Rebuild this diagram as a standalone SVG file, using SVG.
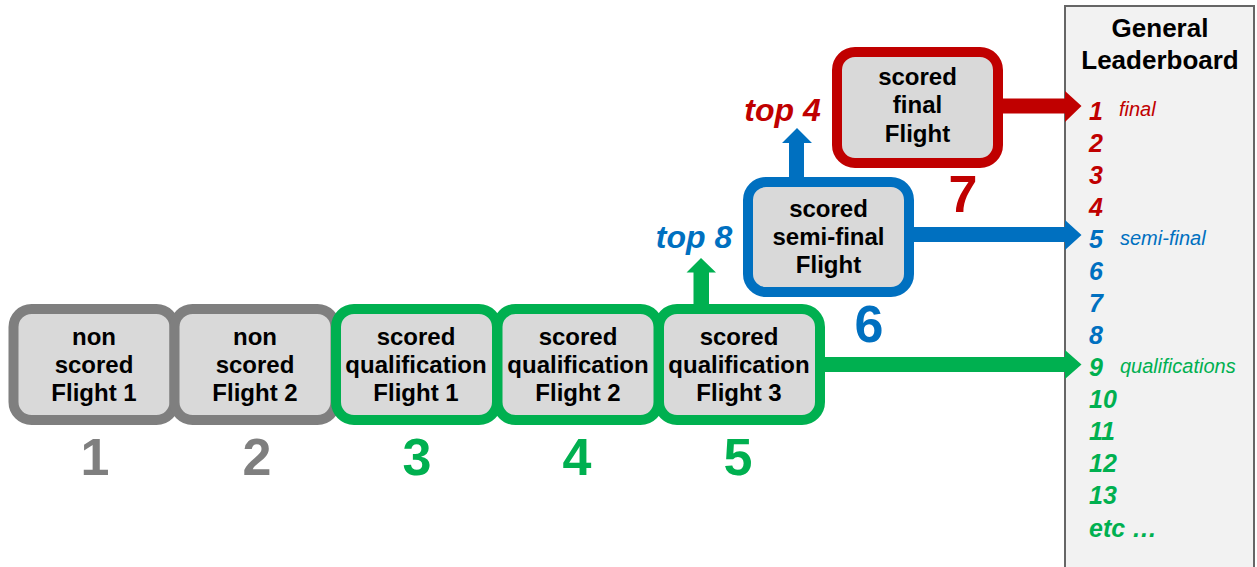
<svg xmlns="http://www.w3.org/2000/svg" width="1257" height="567" viewBox="0 0 1257 567">
<style>
.box{fill:#d9d9d9;stroke-width:10}
.g{stroke:#7f7f7f}.gr{stroke:#00b050}.bl{stroke:#0070c0}.rd{stroke:#c00000}
.bt{font-family:"Liberation Sans",Arial,sans-serif;font-weight:bold;font-size:24px;fill:#000;text-anchor:middle}
.num{font-family:"Liberation Sans",Arial,sans-serif;font-weight:bold;font-size:52px;text-anchor:middle}
.top{font-family:"Liberation Sans",Arial,sans-serif;font-weight:bold;font-style:italic;font-size:32px;text-anchor:middle}
.hd{font-family:"Liberation Sans",Arial,sans-serif;font-weight:bold;font-size:26px;fill:#000;text-anchor:middle}
.rk{font-family:"Liberation Sans",Arial,sans-serif;font-weight:bold;font-style:italic;font-size:25px}
.lb{font-family:"Liberation Sans",Arial,sans-serif;font-style:italic;font-size:20px}
.cg{fill:#7f7f7f}.cgr{fill:#00b050}.cbl{fill:#0070c0}.crd{fill:#c00000}
</style>
<g id="leaderboard">
<rect x="1065" y="6" width="189" height="580" fill="#f2f2f2" stroke="#666666" stroke-width="2"/>
<text class="hd" x="1160" y="37">General</text>
<text class="hd" x="1160" y="69">Leaderboard</text>
<g class="rk">
<text class="crd" x="1089" y="120">1</text>
<text class="crd" x="1089" y="152">2</text>
<text class="crd" x="1089" y="184">3</text>
<text class="crd" x="1089" y="216">4</text>
<text class="cbl" x="1089" y="248">5</text>
<text class="cbl" x="1089" y="280">6</text>
<text class="cbl" x="1089" y="312">7</text>
<text class="cbl" x="1089" y="344">8</text>
<text class="cgr" x="1089" y="376">9</text>
<text class="cgr" x="1089" y="408">10</text>
<text class="cgr" x="1089" y="440">11</text>
<text class="cgr" x="1089" y="472">12</text>
<text class="cgr" x="1089" y="504">13</text>
<text class="cgr" x="1089" y="537">etc …</text>
</g>
<text class="lb crd" x="1119" y="116">final</text>
<text class="lb cbl" x="1120" y="245">semi-final</text>
<text class="lb cgr" x="1120" y="373">qualifications</text>
</g>
<g id="connectors">
<polygon class="cgr" points="693.5,306 693.5,272.5 686.5,272.5 701,258 716,272.5 709,272.5 709,306"/>
<polygon class="cbl" points="789,179 789,143 782,143 797,128 812,143 804,143 804,179"/>
<polygon class="crd" points="1000,98.5 1065,98.5 1065,91 1081.5,106 1065,122 1065,113.5 1000,113.5"/>
<polygon class="cbl" points="911,227 1065,227 1065,220 1081.5,235 1065,250 1065,242 911,242"/>
<polygon class="cgr" points="822,357 1065,357 1065,350 1081.5,364.5 1065,379 1065,372 822,372"/>
</g>
<g id="flight1">
<rect class="box g" x="13.5" y="309" width="161" height="111" rx="18"/>
<text class="bt" x="94" y="345">non</text><text class="bt" x="94" y="373">scored</text><text class="bt" x="94" y="401">Flight 1</text>
<text class="num cg" x="95" y="475">1</text>
</g>
<g id="flight2">
<rect class="box g" x="174.5" y="309" width="161" height="111" rx="18"/>
<text class="bt" x="255" y="345">non</text><text class="bt" x="255" y="373">scored</text><text class="bt" x="255" y="401">Flight 2</text>
<text class="num cg" x="257" y="475">2</text>
</g>
<g id="qual1">
<rect class="box gr" x="336" y="309" width="161" height="111" rx="18"/>
<text class="bt" x="416" y="345">scored</text><text class="bt" x="416" y="373">qualification</text><text class="bt" x="416" y="401">Flight 1</text>
<text class="num cgr" x="417" y="475">3</text>
</g>
<g id="qual2">
<rect class="box gr" x="497.5" y="309" width="161" height="111" rx="18"/>
<text class="bt" x="578" y="345">scored</text><text class="bt" x="578" y="373">qualification</text><text class="bt" x="578" y="401">Flight 2</text>
<text class="num cgr" x="577" y="475">4</text>
</g>
<g id="qual3">
<rect class="box gr" x="659" y="309" width="161" height="111" rx="18"/>
<text class="bt" x="739" y="345">scored</text><text class="bt" x="739" y="373">qualification</text><text class="bt" x="739" y="401">Flight 3</text>
<text class="num cgr" x="738" y="475">5</text>
</g>
<g id="semifinal">
<rect class="box bl" x="748" y="182" width="161" height="110" rx="18"/>
<text class="bt" x="828.5" y="217">scored</text><text class="bt" x="828.5" y="245">semi-final</text><text class="bt" x="828.5" y="273">Flight</text>
<text class="num cbl" x="869" y="342">6</text>
<text class="top cbl" x="694" y="248">top 8</text>
</g>
<g id="final">
<rect class="box rd" x="837" y="52" width="161" height="111" rx="18"/>
<text class="bt" x="917.5" y="85">scored</text><text class="bt" x="917.5" y="113">final</text><text class="bt" x="917.5" y="142">Flight</text>
<text class="num crd" x="963" y="212">7</text>
<text class="top crd" x="782.5" y="121">top 4</text>
</g>
</svg>
